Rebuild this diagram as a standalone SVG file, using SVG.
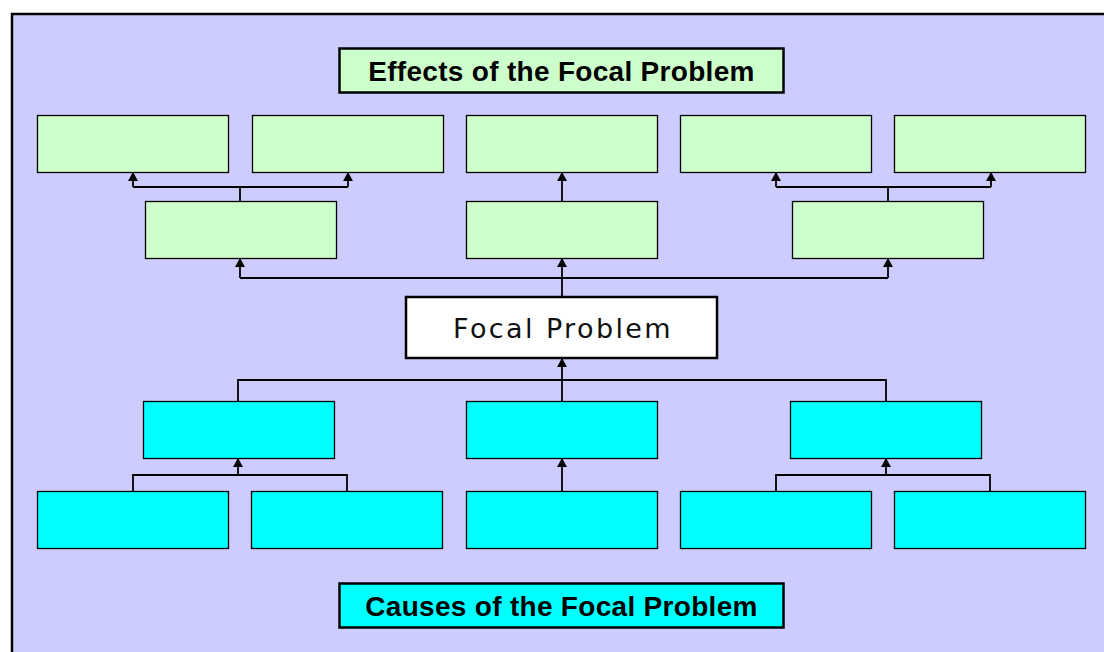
<svg xmlns="http://www.w3.org/2000/svg" width="1104" height="652" viewBox="0 0 1104 652">
<defs>
<style>
.eff{fill:#CCFFCC;stroke:#000;stroke-width:1.3}
.cau{fill:#00FFFF;stroke:#000;stroke-width:1.3}
.ttl{stroke:#000;stroke-width:2.5}
.tt{font-family:"Liberation Sans",Arial,sans-serif;font-weight:bold;font-size:28px;letter-spacing:0.3px;fill:#000;text-anchor:middle}
.ln{fill:none;stroke:#000;stroke-width:1.8}
</style>
<marker id="ah" markerWidth="10" markerHeight="10" refX="8" refY="5" orient="auto" markerUnits="userSpaceOnUse">
<path d="M0,0 L9,5 L0,10 z" fill="#000"/>
</marker>
</defs>
<rect x="0" y="0" width="1104" height="652" fill="#fff"/>
<rect id="frame" x="12" y="14" width="1100" height="650" fill="#CCCCFF" stroke="#000" stroke-width="2.5"/>

<g id="title-effects">
<rect class="ttl" x="339.5" y="48.5" width="444" height="44" fill="#CCFFCC"/>
<text class="tt" x="561.5" y="81">Effects of the Focal Problem</text>
</g>
<g id="title-causes">
<rect class="ttl" x="339.5" y="583.5" width="444" height="44" fill="#00FFFF"/>
<text class="tt" x="561.5" y="616">Causes of the Focal Problem</text>
</g>

<g id="e1"><rect class="eff" x="37.5" y="115.5" width="191" height="57"/></g>
<g id="e2"><rect class="eff" x="252.5" y="115.5" width="191" height="57"/></g>
<g id="e3"><rect class="eff" x="466.5" y="115.5" width="191" height="57"/></g>
<g id="e4"><rect class="eff" x="680.5" y="115.5" width="191" height="57"/></g>
<g id="e5"><rect class="eff" x="894.5" y="115.5" width="191" height="57"/></g>
<g id="e6"><rect class="eff" x="145.5" y="201.5" width="191" height="57"/></g>
<g id="e7"><rect class="eff" x="466.5" y="201.5" width="191" height="57"/></g>
<g id="e8"><rect class="eff" x="792.5" y="201.5" width="191" height="57"/></g>

<g id="focal">
<rect x="406" y="297" width="311" height="61" fill="#fff" stroke="#000" stroke-width="2.5"/>
<text x="563" y="338" font-family="'DejaVu Sans',Verdana,sans-serif" font-size="27" letter-spacing="2.4" text-anchor="middle" fill="#111">Focal Problem</text>
</g>

<g id="c1"><rect class="cau" x="143.5" y="401.5" width="191" height="57"/></g>
<g id="c2"><rect class="cau" x="466.5" y="401.5" width="191" height="57"/></g>
<g id="c3"><rect class="cau" x="790.5" y="401.5" width="191" height="57"/></g>
<g id="c4"><rect class="cau" x="37.5" y="491.5" width="191" height="57"/></g>
<g id="c5"><rect class="cau" x="251.5" y="491.5" width="191" height="57"/></g>
<g id="c6"><rect class="cau" x="466.5" y="491.5" width="191" height="57"/></g>
<g id="c7"><rect class="cau" x="680.5" y="491.5" width="191" height="57"/></g>
<g id="c8"><rect class="cau" x="894.5" y="491.5" width="191" height="57"/></g>

<g id="connectors">
<path class="ln" d="M240,201 V187 M133,187 H348"/>
<path class="ln" d="M133,187 V173" marker-end="url(#ah)"/>
<path class="ln" d="M348,187 V173" marker-end="url(#ah)"/>
<path class="ln" d="M562,201 V173" marker-end="url(#ah)"/>
<path class="ln" d="M888,201 V187 M776,187 H991"/>
<path class="ln" d="M776,187 V173" marker-end="url(#ah)"/>
<path class="ln" d="M991,187 V173" marker-end="url(#ah)"/>

<path class="ln" d="M240,278 H888"/>
<path class="ln" d="M240,278 V259" marker-end="url(#ah)"/>
<path class="ln" d="M888,278 V259" marker-end="url(#ah)"/>
<path class="ln" d="M562,296 V259" marker-end="url(#ah)"/>

<path class="ln" d="M238,401 V380 H886 V401"/>
<path class="ln" d="M562,401 V359" marker-end="url(#ah)"/>

<path class="ln" d="M133,491 V475 H347 V491"/>
<path class="ln" d="M238,475 V459" marker-end="url(#ah)"/>
<path class="ln" d="M562,491 V459" marker-end="url(#ah)"/>
<path class="ln" d="M776,491 V475 H990 V491"/>
<path class="ln" d="M886,475 V459" marker-end="url(#ah)"/>
</g>
</svg>
